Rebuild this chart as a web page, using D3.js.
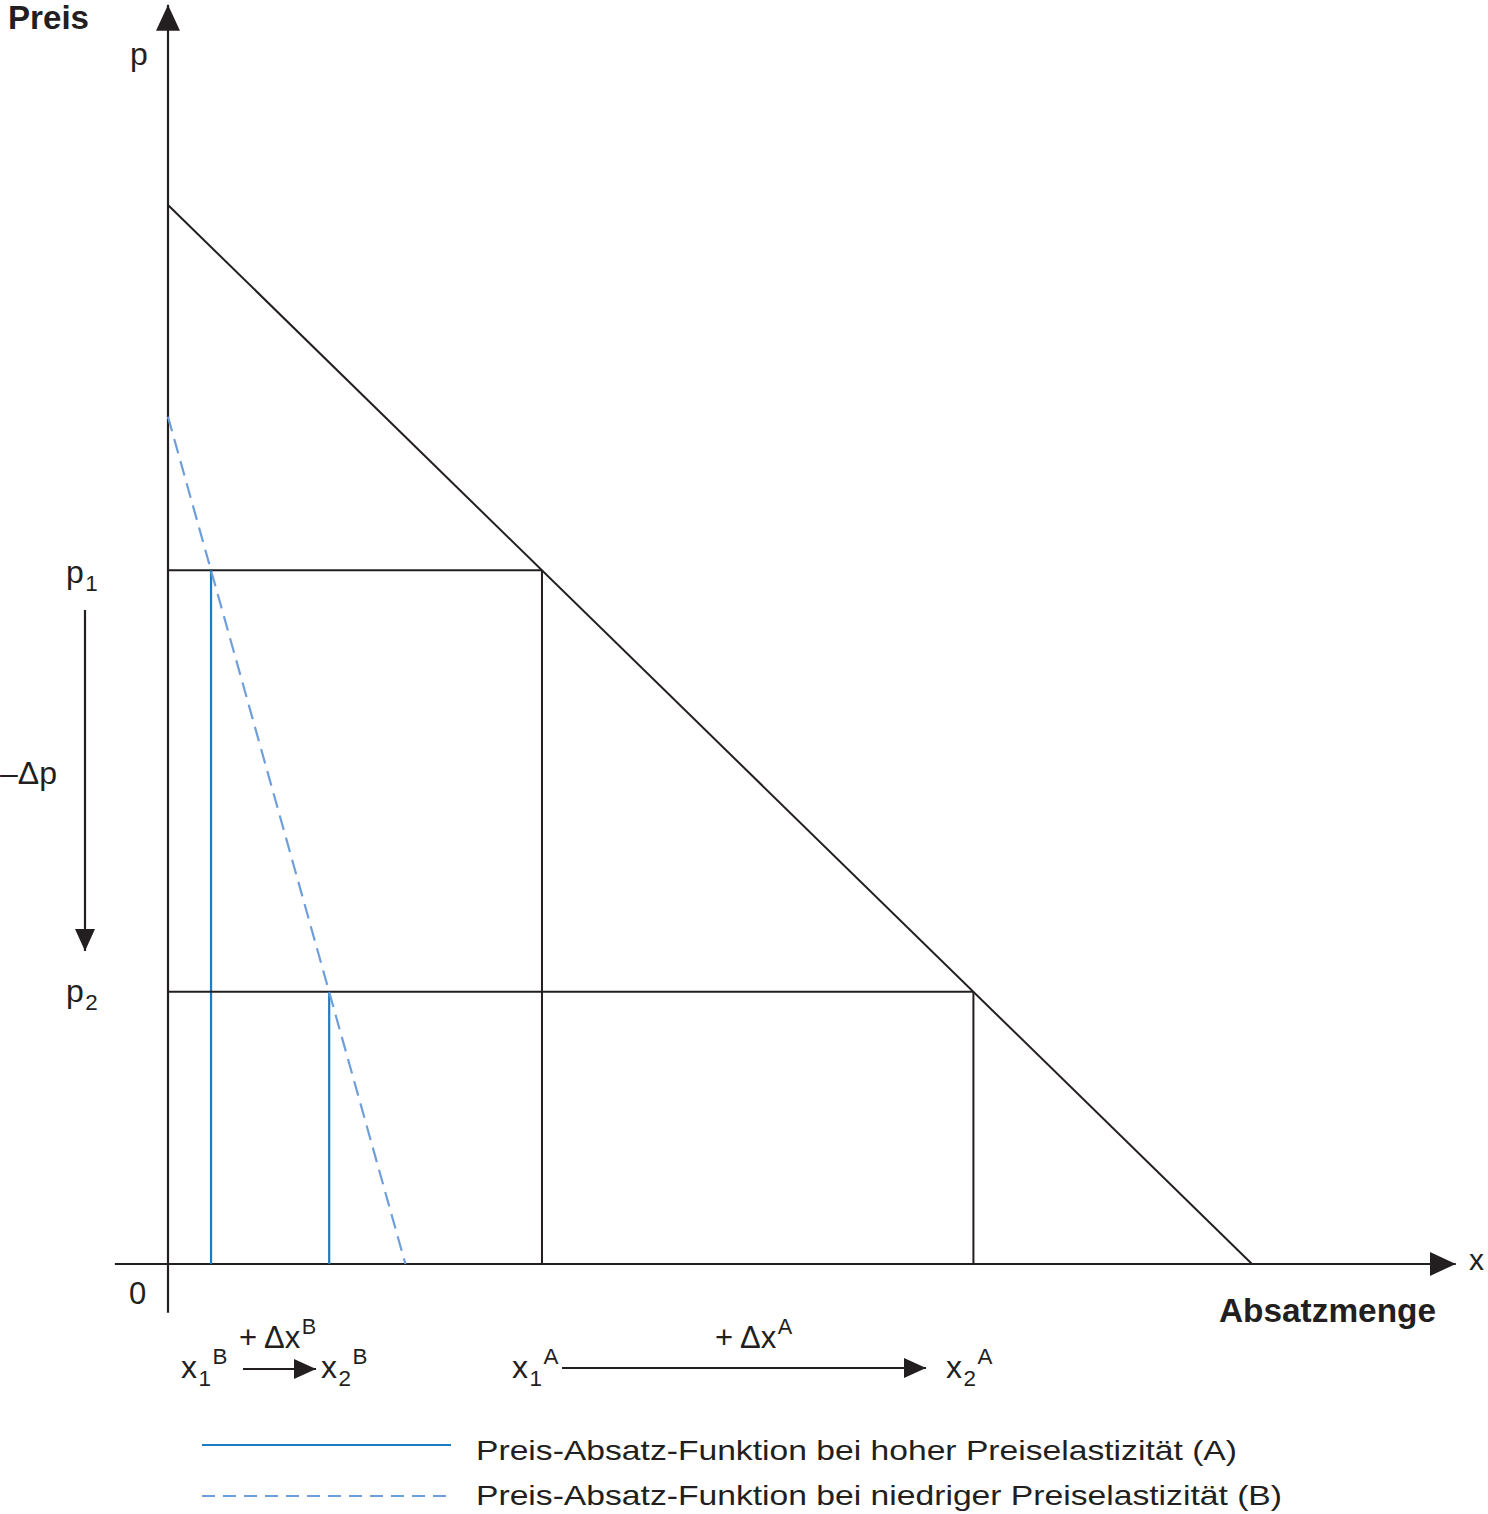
<!DOCTYPE html>
<html><head><meta charset="utf-8">
<script src="https://cdn.jsdelivr.net/npm/d3@7"></script>
<style>body{margin:0;background:#fff}svg{display:block}text{font-family:"Liberation Sans",Arial,Helvetica,sans-serif;fill:#231f20}</style>
</head><body>
<svg id="c" width="1488" height="1514"></svg>
<script>
// ---- data (abstract units: quantity x, price p) ----
const curveA = [{x:0,p:100},{x:100,p:0}];       // black demand line
const curveB = [{x:0,p:80},{x:21.9,p:0}];       // dashed blue demand line
const prices = [65.5, 25.7];                      // p1, p2
const quantA = [34.5, 74.3];                      // x1A, x2A
const quantB = [3.97, 14.87];                     // x1B, x2B
const legendLabels = ["Preis-Absatz-Funktion bei hoher Preiselastizität (A)",
                      "Preis-Absatz-Funktion bei niedriger Preiselastizität (B)"];

const INK="#231f20", BLUE="#1b7cc4", LBLUE="#6e9fda";
const svg=d3.select("#c");
const x=d3.scaleLinear().domain([0,100]).range([168,1252]);
const y=d3.scaleLinear().domain([0,100]).range([1264,205]);

// arrow markers
const defs=svg.append("defs");
function marker(id,w,h){
  defs.append("marker").attr("id",id).attr("viewBox",`0 0 ${w} ${h}`)
   .attr("refX",w).attr("refY",h/2).attr("markerWidth",w).attr("markerHeight",h)
   .attr("markerUnits","userSpaceOnUse").attr("orient","auto")
   .append("path").attr("d",`M0,0L${w},${h/2}L0,${h}Z`).style("fill",INK);
}
marker("big",26,24); marker("mid",22,20);

// axes
svg.append("line").attr("x1",x(0)).attr("x2",x(0)).attr("y1",y(-4.6)).attr("y2",y(118.9))
  .attr("stroke",INK).attr("stroke-width",2.2).attr("marker-end","url(#big)");
svg.append("line").attr("x1",x(-4.9)).attr("x2",x(118.8)).attr("y1",y(0)).attr("y2",y(0))
  .attr("stroke",INK).attr("stroke-width",2.2).attr("marker-end","url(#big)");

const line=d3.line().x(d=>x(d.x)).y(d=>y(d.p));

// price lines and quantity verticals
prices.forEach((p,i)=>{
  svg.append("line").attr("x1",x(0)).attr("x2",x(quantA[i])).attr("y1",y(p)).attr("y2",y(p))
    .attr("stroke",INK).attr("stroke-width",2);
  svg.append("line").attr("x1",x(quantA[i])).attr("x2",x(quantA[i])).attr("y1",y(p)).attr("y2",y(0))
    .attr("stroke",INK).attr("stroke-width",2);
  svg.append("line").attr("x1",x(quantB[i])).attr("x2",x(quantB[i])).attr("y1",y(p)).attr("y2",y(0))
    .attr("stroke",BLUE).attr("stroke-width",2.2);
});
svg.append("path").datum(curveA).attr("d",line).attr("fill","none").attr("stroke",INK).attr("stroke-width",2);
svg.append("path").datum(curveB).attr("d",line).attr("fill","none").attr("stroke",LBLUE)
  .attr("stroke-width",2.2).attr("stroke-dasharray","15,8");

// text helper with sub/superscripts
function label(px,py,parts,size,weight){
  const t=svg.append("text").attr("x",px).attr("y",py).style("font-size",size+"px");
  if(weight) t.style("font-weight",weight);
  let cur=0;
  parts.forEach(pt=>{
    const [s,kind]=Array.isArray(pt)?pt:[pt,"n"];
    let target = kind==="sub"?8: kind==="sup"?-14:0;
    const ts=t.append("tspan").text(s).attr("dy",target-cur);
    if(kind!=="n") ts.style("font-size",(size*0.7)+"px").attr("dx",1.5);
    cur=target;
  });
  return t;
}
svg.append("text").attr("x",8).attr("y",29).style("font-size","33px").style("font-weight","bold")
  .attr("textLength",81).attr("lengthAdjust","spacingAndGlyphs").text("Preis");
label(130,65,["p"],32);
label(66,583,["p",["1","sub"]],32);
label(66,1002,["p",["2","sub"]],32);
label(0,784,["\u2013\u0394p"],32);
label(129,1304,["0"],31);
label(1469,1270,["x"],30);
svg.append("text").attr("x",1219).attr("y",1322).style("font-size","33px").style("font-weight","bold")
  .attr("textLength",217).attr("lengthAdjust","spacingAndGlyphs").text("Absatzmenge");

// -Δp arrow
svg.append("line").attr("x1",85).attr("x2",85).attr("y1",610).attr("y2",951)
  .attr("stroke",INK).attr("stroke-width",2.2).attr("marker-end","url(#mid)");

// quantity change labels
label(181,1378,["x",["1","sub"],["B","sup"]],32);
label(321,1378,["x",["2","sub"],["B","sup"]],32);
label(239,1348,["+ \u0394x",["B","sup"]],31);
svg.append("line").attr("x1",243).attr("x2",316).attr("y1",1369).attr("y2",1369)
  .attr("stroke",INK).attr("stroke-width",2).attr("marker-end","url(#mid)");
label(512,1378,["x",["1","sub"],["A","sup"]],32);
label(946,1378,["x",["2","sub"],["A","sup"]],32);
label(715,1348,["+ \u0394x",["A","sup"]],31);
svg.append("line").attr("x1",562).attr("x2",926).attr("y1",1368).attr("y2",1368)
  .attr("stroke",INK).attr("stroke-width",2).attr("marker-end","url(#mid)");

// legend
const lg=[{y:1445,ty:1460,c:BLUE,d:null,len:761},{y:1496,ty:1505,c:LBLUE,d:"13,8",len:806}];
lg.forEach((g,i)=>{
  const l=svg.append("line").attr("x1",202).attr("x2",451).attr("y1",g.y).attr("y2",g.y)
    .attr("stroke",g.c).attr("stroke-width",2.2);
  if(g.d) l.attr("stroke-dasharray",g.d);
  svg.append("text").attr("x",476).attr("y",g.ty).style("font-size","28px")
    .attr("textLength",g.len).attr("lengthAdjust","spacingAndGlyphs").text(legendLabels[i]);
});
</script>
</body></html>
